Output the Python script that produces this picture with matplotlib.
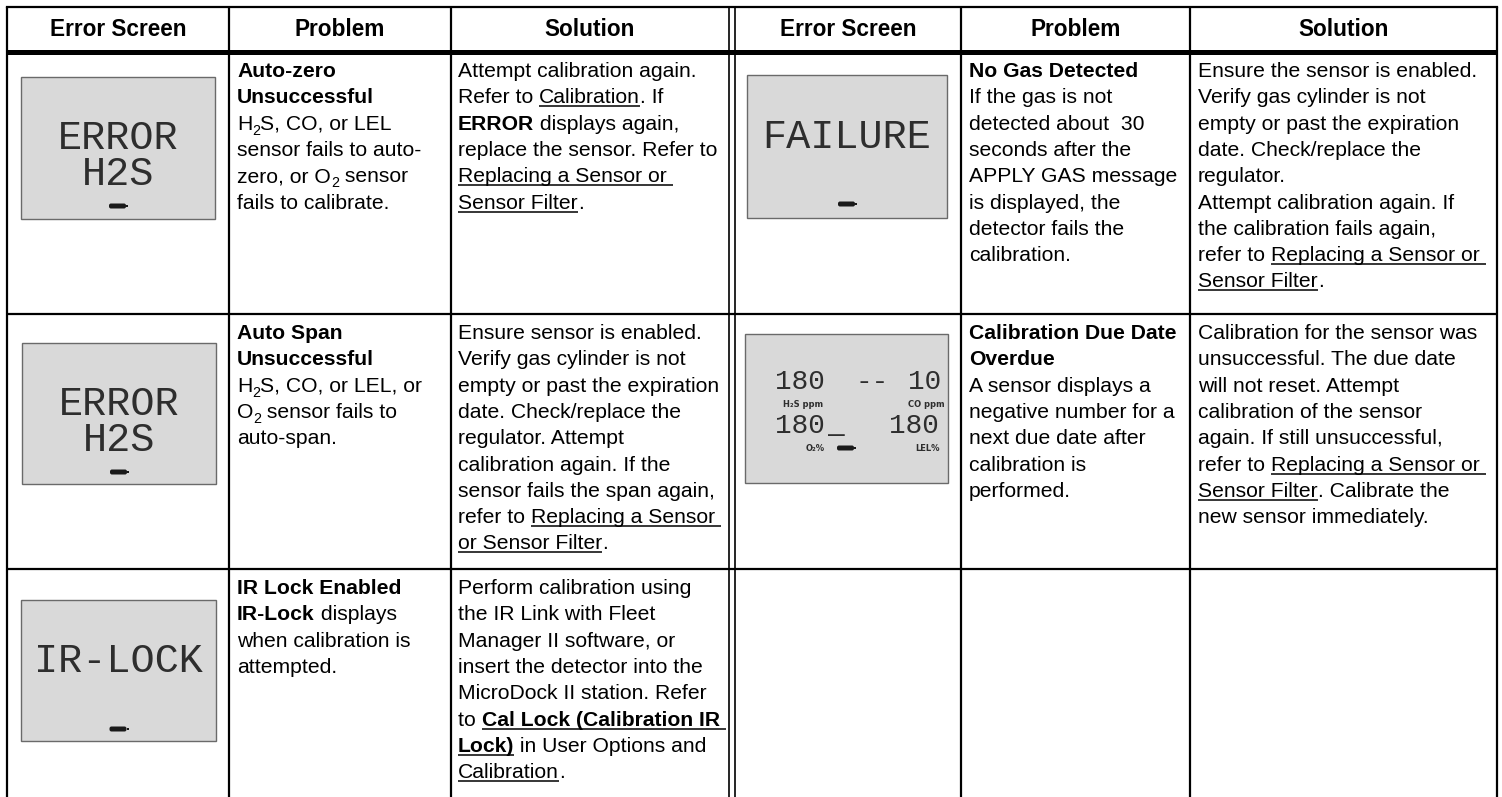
import re
import matplotlib.pyplot as plt
from matplotlib.patches import Rectangle, FancyBboxPatch
from matplotlib.font_manager import FontProperties

# ---- table content ----
headers = ["Error Screen", "Problem", "Solution", "Error Screen", "Problem", "Solution"]

# ** toggles bold, __ toggles underline, _{x} is a subscript
problems_left = [
    ["**Auto-zero**", "**Unsuccessful**", "H_{2}S, CO, or LEL", "sensor fails to auto-",
     "zero, or O_{2} sensor", "fails to calibrate."],
    ["**Auto Span**", "**Unsuccessful**", "H_{2}S, CO, or LEL, or", "O_{2} sensor fails to",
     "auto-span."],
    ["**IR Lock Enabled**", "**IR-Lock** displays", "when calibration is", "attempted."],
]
solutions_left = [
    ["Attempt calibration again.", "Refer to __Calibration__. If", "**ERROR** displays again,",
     "replace the sensor. Refer to", "__Replacing a Sensor or __", "__Sensor Filter__."],
    ["Ensure sensor is enabled.", "Verify gas cylinder is not", "empty or past the expiration",
     "date. Check/replace the", "regulator. Attempt", "calibration again. If the",
     "sensor fails the span again,", "refer to __Replacing a Sensor __", "__or Sensor Filter__."],
    ["Perform calibration using", "the IR Link with Fleet", "Manager II software, or",
     "insert the detector into the", "MicroDock II station. Refer",
     "to **__Cal Lock (Calibration IR __**", "**__Lock)__** in User Options and",
     "__Calibration__."],
]
problems_right = [
    ["**No Gas Detected**", "If the gas is not", "detected about  30", "seconds after the",
     "APPLY GAS message", "is displayed, the", "detector fails the", "calibration."],
    ["**Calibration Due Date**", "**Overdue**", "A sensor displays a", "negative number for a",
     "next due date after", "calibration is", "performed."],
    [],
]
solutions_right = [
    ["Ensure the sensor is enabled.", "Verify gas cylinder is not", "empty or past the expiration",
     "date. Check/replace the", "regulator.", "Attempt calibration again. If",
     "the calibration fails again,", "refer to __Replacing a Sensor or __", "__Sensor Filter__."],
    ["Calibration for the sensor was", "unsuccessful. The due date", "will not reset. Attempt",
     "calibration of the sensor", "again. If still unsuccessful,",
     "refer to __Replacing a Sensor or __", "__Sensor Filter__. Calibrate the",
     "new sensor immediately."],
    [],
]

# LCD screen texts
screens_left = [["ERROR", "H2S"], ["ERROR", "H2S"], ["IR-LOCK"]]
screens_right = [["FAILURE"]]
due_top = ["180", "--", "10"]
due_bottom = ["180", "_", "180"]
due_labels = ["H\u2082S ppm", "CO ppm", "O\u2082%", "LEL%"]

# ---- figure in pixel units ----
W, H = 1502, 797
fig = plt.figure(figsize=(W / 100, H / 100), dpi=100)
ax = fig.add_axes([0, 0, 1, 1])
ax.set_xlim(0, W)
ax.set_ylim(H, 0)
ax.axis('off')
r = fig.canvas.get_renderer()

FS = 15.2
SANS = 'Liberation Sans'
MONO = 'Liberation Mono'
LCD_INK = '#2e2e2e'
col_left = [7, 229, 451, 735, 961, 1190]
col_right = [229, 451, 729, 961, 1190, 1497]
row_y = [7, 52, 314, 569]

# grid
lw = 1.6
for x in [7, 229, 451, 961, 1190, 1497]:
    ax.plot([x, x], [7, H], color='black', lw=lw, solid_capstyle='butt')
for x in [729, 735]:
    ax.plot([x, x], [7, H], color='black', lw=1.2, solid_capstyle='butt')
ax.plot([7, 1497], [7, 7], color='black', lw=lw, solid_capstyle='projecting')
ax.plot([7, 1497], [52, 52], color='black', lw=3.6, solid_capstyle='butt')
for y in row_y[2:]:
    ax.plot([7, 1497], [y, y], color='black', lw=lw, solid_capstyle='butt')

# headers
for h, a, b in zip(headers, col_left, col_right):
    ax.text((a + b) / 2, 29, h, ha='center', va='center', fontsize=16.3,
            fontweight='bold', family=SANS)


def adv(s, fp):
    w1 = r.get_text_width_height_descent('X' + s + 'X', fp, False)[0]
    w0 = r.get_text_width_height_descent('XX', fp, False)[0]
    return w1 - w0


TOKEN = re.compile(r'(\*\*|__|_\{[^}]*\})')


def draw_rich(x, y, line):
    bold = under = False
    for tok in TOKEN.split(line):
        if tok == '**':
            bold = not bold
            continue
        if tok == '__':
            under = not under
            continue
        if not tok:
            continue
        sub = tok.startswith('_{')
        s = tok[2:-1] if sub else tok
        fp = FontProperties(family=SANS, size=FS * (0.68 if sub else 1),
                            weight='bold' if bold else 'normal')
        ax.text(x, y + (5 if sub else 0), s, fontproperties=fp, va='baseline', ha='left')
        w = adv(s, fp)
        if under:
            ax.plot([x, x + w], [y + 3, y + 3], color='black', lw=1.1, solid_capstyle='butt')
        x += w


def draw_cell(x, top, lines):
    for i, line in enumerate(lines):
        draw_rich(x, top + 25 + i * 26.3, line)


tops = row_y[1:4]
for i in range(3):
    draw_cell(237, tops[i], problems_left[i])
    draw_cell(458, tops[i], solutions_left[i])
    draw_cell(969, tops[i], problems_right[i])
    draw_cell(1198, tops[i], solutions_right[i])


# LCD screens
def battery(cx, cy):
    ax.add_patch(FancyBboxPatch((cx - 9, cy - 2.5), 17, 5, boxstyle='round,pad=0,rounding_size=2',
                                fc='#1a1a1a', ec='none'))
    ax.add_patch(Rectangle((cx + 8, cy - 1.3), 2, 2.6, fc='#1a1a1a', ec='none'))


def lcd_box(x0, y0, x1, y1):
    ax.add_patch(Rectangle((x0, y0), x1 - x0, y1 - y0, fc='#d9d9d9', ec='#6a6a6a', lw=1.0))


left_boxes = [(21, 77, 215, 219), (22, 343, 216, 484), (21, 600, 216, 741)]
for (x0, y0, x1, y1), txt in zip(left_boxes, screens_left):
    lcd_box(x0, y0, x1, y1)
    cx = (x0 + x1) / 2
    for j, t in enumerate(txt):
        ax.text(cx, y0 + 61 + j * 36, t, ha='center', va='center', fontsize=29,
                family=MONO, color=LCD_INK)
    battery(cx, y0 + 129)

x0, y0, x1, y1 = 747, 75, 947, 218
lcd_box(x0, y0, x1, y1)
ax.text((x0 + x1) / 2, y0 + 62, screens_right[0][0], ha='center', va='center', fontsize=29,
        family=MONO, color=LCD_INK)
battery((x0 + x1) / 2, y0 + 129)

# calibration due screen
x0, y0, x1, y1 = 745, 334, 948, 483
lcd_box(x0, y0, x1, y1)
for t, cx in zip(due_top, [800, 872, 925]):
    ax.text(cx, 382, t, ha='center', va='center', fontsize=20, family=MONO,
            color=LCD_INK)
for t, cx in zip(due_bottom, [800, 836, 914]):
    ax.text(cx, 426, t, ha='center', va='center', fontsize=20, family=MONO,
            color=LCD_INK)
for t, (cx, cy) in zip(due_labels, [(803, 404), (926, 404), (815, 448), (927, 448)]):
    ax.text(cx, cy, t, ha='center', va='center', fontsize=6, fontweight='bold',
            family='DejaVu Sans', color=LCD_INK)
battery(846, 448)

fig.savefig('out.png', dpi=100)
